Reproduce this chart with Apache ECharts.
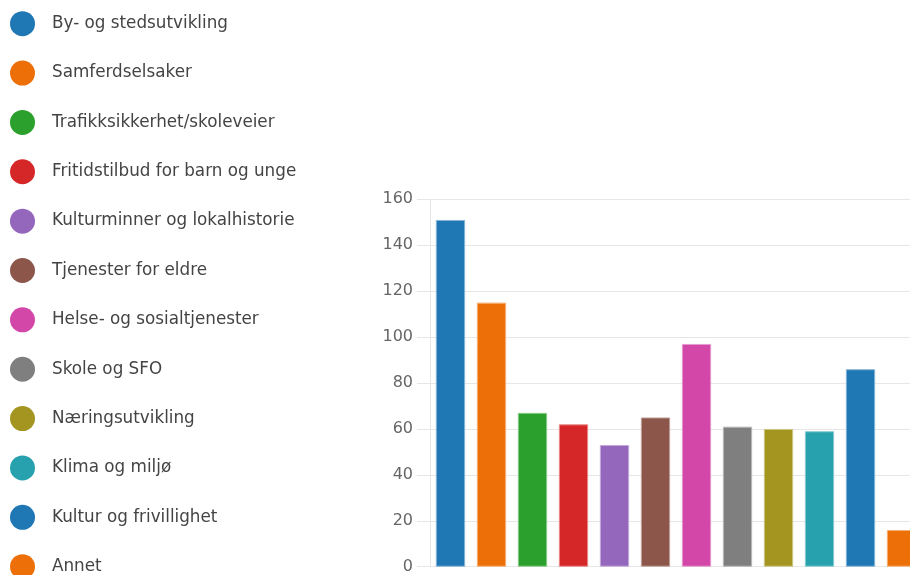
<!DOCTYPE html>
<html>
<head>
<meta charset="utf-8">
<script src="https://cdn.jsdelivr.net/npm/echarts@6/dist/echarts.min.js"></script>
<style>
html,body{margin:0;padding:0;background:#fff;overflow:hidden;width:910px;height:575px;}
#chart{width:922px;height:575px;}
</style>
</head>
<body>
<div id="chart"></div>
<script>
const categories = [
  "By- og stedsutvikling",
  "Samferdselsaker",
  "Trafikksikkerhet/skoleveier",
  "Fritidstilbud for barn og unge",
  "Kulturminner og lokalhistorie",
  "Tjenester for eldre",
  "Helse- og sosialtjenester",
  "Skole og SFO",
  "Næringsutvikling",
  "Klima og miljø",
  "Kultur og frivillighet",
  "Annet"
];
const values = [151, 115, 67, 62, 53, 65, 97, 61, 60, 59, 86, 16];
const colors = [
  "#1f77b4", "#ec7007", "#2ca02c", "#d62728", "#9467bd",
  "#8c564b", "#d247a8", "#7f7f7f", "#a39520", "#28a1ae",
  "#1f77b4", "#ec7007"
];
const yTicks = { min: 0, max: 160, interval: 20 };

function tint(hex, f) {
  const n = parseInt(hex.slice(1), 16);
  const r = (n >> 16) & 255, g = (n >> 8) & 255, b = n & 255;
  const m = c => Math.round(c + (255 - c) * f);
  return "rgb(" + m(r) + "," + m(g) + "," + m(b) + ")";
}

const chart = echarts.init(document.getElementById("chart"), null, { renderer: "canvas" });
const gridColor = "#e6e6e6";

chart.setOption({
  animation: false,
  backgroundColor: "#fff",
  legend: {
    orient: "vertical",
    left: 10,
    top: 11.2,
    height: 900,
    padding: 0,
    itemWidth: 25,
    itemHeight: 25,
    itemGap: 24.36,
    icon: "circle",
    selectedMode: false,
    itemStyle: { borderWidth: 0 },
    textStyle: {
      fontFamily: "DejaVu Sans",
      fontSize: 16.8,
      lineHeight: 20,
      color: "#444",
      padding: [0, 0, 0, 12]
    },
    data: categories
  },
  grid: {
    left: 430,
    right: 0,
    top: 199.3,
    bottom: 8.3,
    containLabel: false
  },
  xAxis: {
    type: "category",
    data: categories,
    axisLabel: { show: false },
    axisTick: { show: false },
    axisLine: { show: false },
    splitLine: { show: false }
  },
  yAxis: {
    type: "value",
    min: yTicks.min,
    max: yTicks.max,
    interval: yTicks.interval,
    axisLine: { show: true, lineStyle: { color: gridColor, width: 1 } },
    axisTick: { show: true, length: 13, lineStyle: { color: gridColor, width: 1 } },
    axisLabel: {
      margin: 17,
      fontSize: 16,
      fontFamily: "DejaVu Sans",
      color: "#666"
    },
    splitLine: { lineStyle: { color: gridColor, width: 1 } }
  },
  series: categories.map((name, i) => ({
    name: name,
    type: "bar",
    stack: "all",
    barWidth: 29.3,
    itemStyle: {
      color: colors[i],
      borderColor: tint(colors[i], 0.45),
      borderWidth: 1
    },
    data: values.map((v, j) => (j === i ? v : "-"))
  }))
});
</script>
</body>
</html>
